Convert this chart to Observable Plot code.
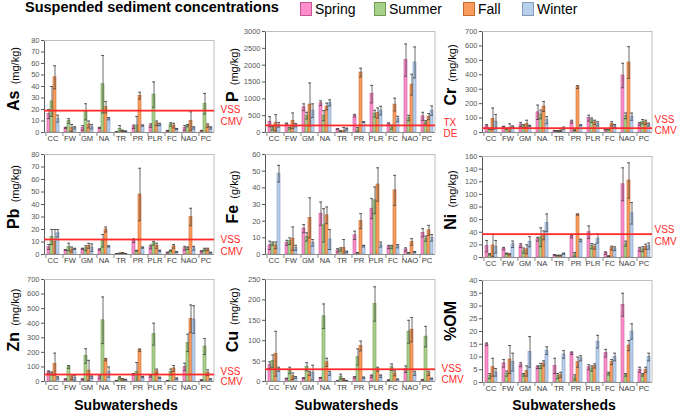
<!DOCTYPE html>
<html><head><meta charset="utf-8">
<script src="https://cdn.jsdelivr.net/npm/d3@7"></script>
<script src="https://cdn.jsdelivr.net/npm/@observablehq/plot@0.6"></script>
<style>
body{margin:0;background:#fff;font-family:"Liberation Sans",Arial,sans-serif;}
#wrap{position:relative;width:677px;height:413px;overflow:hidden;background:#fff;}
.ylab{position:absolute;white-space:nowrap;transform:translate(-50%,-50%) rotate(-90deg);color:#000;line-height:1;}
.ylab b{font-size:16px;font-weight:bold;}
.ylab span{font-size:11px;}
.xt{position:absolute;font-weight:bold;font-size:14px;transform:translateX(-50%);white-space:nowrap;color:#000;}
#title{position:absolute;left:25px;top:-1px;font-weight:bold;font-size:14.5px;color:#000;white-space:nowrap;}
.lg{position:absolute;top:1px;font-size:14px;color:#000;display:flex;align-items:center;white-space:nowrap;}
.lg i{display:inline-block;width:12px;height:14px;margin-right:3px;box-sizing:border-box;border:1px solid #888;}
g[aria-label^="fx-axis"] text{font-size:7.6px;fill:#3a3a3a;}
</style>
</head><body><div id="wrap"></div>
<script>
// ---------- data ----------
const cats = ["CC","FW","GM","NA","TR","PR","PLR","FC","NAO","PC"];
const seasons = ["Spring","Summer","Fall","Winter"];

const asVal = [[16,27,48,12],[4,10,4,4],[4,18,7,5],[4,42,22,12],[0.5,3,1.5,1],[5,6,32,6],[6,33,8,7],[1.5,7,6,3],[4,6,10,4],[1.5,25,6,4]];
const asErr = [[4,13,10,3],[0.5,2,3,1],[2,7,3,2],[0.5,25,5,1],[0.2,3,0.5,0.3],[1.5,8,3,0.5],[1.5,11,2,1],[0.3,1.5,2,0.5],[2,1,8,1],[0.3,9,1.5,1]];

const pVal = [[320,130,290,230],[250,130,350,220],[750,500,830,650],[870,500,770,880],[100,40,50,100],[500,90,1780,310],[1140,560,580,650],[250,160,830,400],[2150,430,1420,2080],[480,300,470,650]];
const pErr = [[150,50,240,70],[30,30,230,50],[100,100,640,200],[70,150,100,90],[10,10,100,30],[40,60,130,10],[260,100,150,130],[40,60,190,80],[480,80,310,460],[120,50,90,140]];

const crVal = [[45,25,95,75],[40,25,30,40],[55,45,60,45],[140,125,180,85],[12,10,12,30],[75,15,315,50],[100,85,70,60],[20,20,60,45],[395,115,485,110],[60,75,70,55]];
const crErr = [[10,5,75,50],[3,5,30,5],[15,10,25,5],[50,30,35,25],[2,3,5,8],[10,3,10,3],[20,15,15,15],[3,3,15,10],[85,20,110,25],[10,15,15,10]];

const pbVal = [[6,14,10,17],[3.5,6,4,4.5],[4.5,5,7,5.5],[4,11,20,6.5],[0.5,0.8,1.2,0.6],[11,3,48,5.5],[6,9,7,3],[1.5,3,6.5,2],[5,5,30,5],[2.5,4,4,1.5]];
const pbErr = [[2,6,10,3],[0.3,3,2,0.5],[0.5,2,2,3],[0.5,5,2,0.5],[0.2,0.2,0.3,0.2],[1.5,0.3,21,0.5],[1.5,1.5,2,0.5],[0.3,0.5,1.5,0.3],[1.5,1,7,1.5],[0.5,1,1,0.3]];

const feVal = [[5.5,6.5,5.5,48.5],[7,8,9.5,4],[15.5,10.5,22,7],[24.5,17.5,23.5,9],[2.5,3,4,1.5],[11.5,1,20,5],[27.5,32.5,42,6],[4.5,4.5,38.5,5],[3,1,7.5,1.5],[13,9.5,14.5,10]];
const feErr = [[2.5,1,2,5],[1.5,2,7,1.5],[2.5,2.5,12,2],[7,10,5,6],[1,1,5,0.5],[2.5,0.2,4.5,0.5],[6,8,10,1.5],[1,1,9,1],[1,0.2,2,0.3],[2.5,1.5,3,2]];

const niVal = [[18,5,19,17],[14,6,5,21],[19,11,13,25],[29,32,35,55],[4,3,3,6],[33,5,68,27],[40,18,17,30],[7,2,15,14],[116,22,122,70],[13,13,17,18]];
const niErr = [[9,1,18,10],[2,1,1,5],[3,4,7,8],[3,15,7,14],[0.5,0.5,0.5,1],[2,3,1,2],[10,4,4,7],[2,0.5,3,3],[26,4,28,17],[3,4,4,5]];

const znVal = [[65,55,120,25],[15,100,30,25],[15,175,75,30],[30,420,150,65],[5,25,15,12],[50,65,215,30],[35,325,70,25],[5,65,90,20],[100,265,430,425],[10,240,60,15]];
const znErr = [[8,10,75,8],[3,10,15,15],[3,50,70,8],[10,160,8,35],[1,8,5,3],[5,65,8,5],[5,75,15,5],[1,20,20,5],[25,60,95,95],[2,55,20,3]];

const cuVal = [[40,50,68,30],[7,27,13,10],[8,36,20,22],[9,160,47,20],[1,12,5,2],[10,60,87,9],[13,190,30,13],[3,35,20,5],[30,122,127,20],[4,110,20,7]];
const cuErr = [[8,15,55,5],[1,8,8,2],[1,10,5,18],[1,30,10,5],[0.2,6,2,0.5],[2,20,12,2],[3,42,5,3],[0.5,8,6,1],[8,28,30,5],[1,25,5,1]];

const omVal = [[15,2.5,6,4],[7.5,3.5,9,8],[7,3,4.5,12],[6,6.5,7.5,12.5],[6.5,2.5,3,11],[11.5,2,8,9.5],[6,5.5,6.5,16],[11.5,3.5,8,10],[30.5,3,14.5,20],[5,3,5,10]];
const omErr = [[0.5,1,3.5,1.5],[1.5,1,5.5,3.5],[0.8,0.5,2,6],[0.5,1,1,1.5],[3,1,1,1.5],[0.5,1,2,1],[1,1,0.8,2.5],[1.5,0.5,1,1.5],[4.5,0.5,2,3],[1,0.5,1,1.5]];

const elements = ["As","P","Cr","Pb","Fe","Ni","Zn","Cu","%OM"];
const units = ["(mg/kg)","(mg/kg)","(mg/kg)","(mg/kg)","(g/kg)","(mg/kg)","(mg/kg)","(mg/kg)",""];
const values = [asVal,pVal,crVal,pbVal,feVal,niVal,znVal,cuVal,omVal];
const errors = [asErr,pErr,crErr,pbErr,feErr,niErr,znErr,cuErr,omErr];
const yMax = [80,3000,700,80,60,160,700,250,40];
const yStep = [10,500,100,10,10,20,100,50,5];
const guideValue = [19,210,30,12,null,37,48,30,null];
const guideLabels = [["VSS","CMV"],["TX","DE"],["VSS","CMV"],["VSS","CMV"],null,["VSS","CMV"],["VSS","CMV"],["VSS","CMV"],null];
const titleText = "Suspended sediment concentrations";
const xTitle = "Subwatersheds";

// ---------- styles / layout ----------
const fills = ["#FF8DC9","#A9D18E","#F99D5E","#B8CFEB"];
const strokes = ["#C4579A","#6E9A52","#C86A2C","#7E9CC2"];
const red = "#FF2A2A";
const layout = [
  {L:41,R:217,T:40,B:132,lx:14, dx:6, dy:[-1,11]},
  {L:262,R:437,T:31,B:132,lx:233, dx:8, dy:[-3,8]},
  {L:479,R:655,T:31,B:132,lx:451, dx:2, dy:[-8,3]},
  {L:41,R:217,T:154,B:254,lx:14, dx:6, dy:[0,12]},
  {L:262,R:437,T:154,B:254,lx:233, dx:6, dy:null},
  {L:479,R:655,T:156,B:257,lx:451, dx:2, dy:[-4,8]},
  {L:41,R:217,T:279,B:381,lx:14, dx:6, dy:[-3,7]},
  {L:262,R:437,T:279,B:381,lx:233, dx:6, dy:[0,11]},
  {L:479,R:655,T:280,B:382,lx:451, dx:2, dy:null}
];
const ML = 40, MR = 34, MT = 8, MB = 18, PADO = 0.3;

const wrap = document.getElementById("wrap");

// title + legend
const t = document.createElement("div"); t.id = "title"; t.textContent = titleText; wrap.appendChild(t);
const legX = [300, 374, 463, 522];
seasons.forEach((s, j) => {
  const d = document.createElement("div");
  d.className = "lg"; d.style.left = legX[j] + "px";
  d.innerHTML = `<i style="background:${fills[j]};border-color:${strokes[j]}"></i>${s}`;
  wrap.appendChild(d);
});

elements.forEach((el, k) => {
  const lay = layout[k];
  const W = (lay.R - lay.L) + ML + MR;
  const H = (lay.B - lay.T) + MT + MB;
  const rows = cats.flatMap((c, i) => seasons.map((s, j) => ({cat: c, season: s, v: values[k][i][j], e: errors[k][i][j]})));
  const fw = (lay.R - lay.L) / cats.length;
  const bstep = fw / (seasons.length + 2 * PADO);
  const edge = bstep * (PADO + 0.5);
  const isFirst = d => d.season === seasons[0];
  const isLast = d => d.cat === cats[cats.length - 1] && d.season === seasons[seasons.length - 1];
  const marks = [
    Plot.ruleY([yMax[k]], {stroke: "#bdbdbd", strokeWidth: 1}),
    Plot.ruleX(rows, {filter: isLast, x: "season", dx: edge, stroke: "#bdbdbd"}),
    Plot.barY(rows, {x: "season", y: "v", fill: d => fills[seasons.indexOf(d.season)], stroke: d => strokes[seasons.indexOf(d.season)], strokeWidth: 0.6}),
    Plot.ruleX(rows, {x: "season", y1: d => Math.max(0, d.v - d.e), y2: d => d.v + d.e, stroke: "#3a3a3a", strokeOpacity: 0.75, strokeWidth: 1}),
    Plot.tickY(rows, {x: "season", y: d => d.v + d.e, stroke: "#3a3a3a", strokeOpacity: 0.75, strokeWidth: 1}),
    Plot.tickY(rows, {x: "season", y: d => Math.max(0, d.v - d.e), stroke: "#3a3a3a", strokeOpacity: 0.75, strokeWidth: 1}),
    Plot.ruleY([0], {stroke: "#8c8c8c"}),
    Plot.ruleX(rows, {filter: isFirst, x: "season", dx: -edge, y1: 0, y2: 0, insetBottom: -4, stroke: "#8c8c8c"})
  ];
  if (guideValue[k] != null) {
    const gv = guideValue[k];
    marks.push(Plot.ruleY([gv], {stroke: red, strokeWidth: 1.8}));
    guideLabels[k].forEach((lbl, n) => {
      marks.push(Plot.text(rows, {filter: isLast, y: () => gv, text: () => lbl, frameAnchor: "right", dx: lay.dx, dy: lay.dy[n], textAnchor: "start", fill: red, fontSize: 10}));
    });
  }
  const chart = Plot.plot({
    width: W, height: H,
    marginLeft: ML, marginRight: MR, marginTop: MT, marginBottom: MB,
    facet: {data: rows, x: "cat"},
    fx: {domain: cats, padding: 0, axis: "bottom", label: null, tickSize: 0, tickPadding: 3},
    x: {domain: seasons, axis: null, paddingInner: 0, paddingOuter: PADO},
    y: {domain: [0, yMax[k]], ticks: d3.range(0, yMax[k] + yStep[k] / 2, yStep[k]), tickFormat: d3.format("d"), label: null, tickSize: 3, tickPadding: 2, line: true},
    style: {background: "none", overflow: "visible", fontSize: "7.5px", color: "#595959", fontFamily: "'Liberation Sans', Arial, sans-serif"},
    marks
  });
  chart.style.position = "absolute";
  chart.style.left = (lay.L - ML) + "px";
  chart.style.top = (lay.T - MT) + "px";
  chart.style.maxWidth = "none";
  wrap.appendChild(chart);

  const yl = document.createElement("div");
  yl.className = "ylab";
  yl.style.left = lay.lx + "px";
  yl.style.top = ((lay.T + lay.B) / 2 - (k >= 6 ? 10 : 7)) + "px";
  yl.innerHTML = `<b>${el}</b>` + (units[k] ? `<span>&nbsp;&nbsp;${units[k]}</span>` : "");
  wrap.appendChild(yl);

  if (k >= 6) {
    const xt = document.createElement("div");
    xt.className = "xt"; xt.textContent = xTitle;
    xt.style.left = ((lay.L + lay.R) / 2 - 3) + "px";
    xt.style.top = "397px";
    wrap.appendChild(xt);
  }
});
</script>
</body></html>
